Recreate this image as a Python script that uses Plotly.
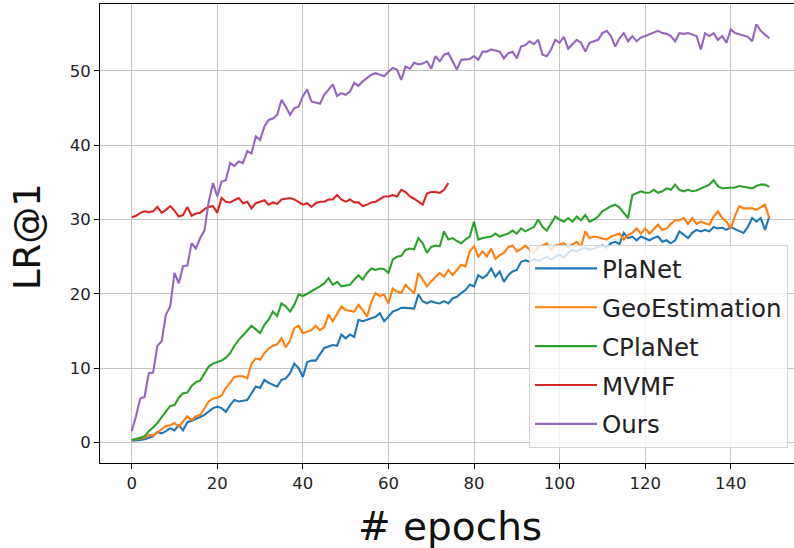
import plotly.graph_objects as go

epochs = list(range(150))
mvmf_epochs = list(range(75))

planet = [0.2, 0.2, 0.3, 0.4, 0.6, 0.8, 1.4, 1.2, 1.5, 1.9,
          1.6, 2.3, 1.6, 2.7, 2.9, 3.1, 3.4, 3.7, 4.1, 4.6,
          4.8, 4.6, 4.1, 5.0, 5.7, 5.5, 5.6, 5.7, 6.6, 7.5,
          7.3, 8.4, 8.0, 7.8, 7.5, 8.4, 8.6, 9.3, 10.6, 10.0,
          8.8, 10.8, 11.0, 11.0, 11.8, 12.7, 12.9, 13.1, 13.0, 14.5,
          14.0, 14.5, 14.2, 16.5, 16.3, 16.5, 16.6, 16.9, 17.4, 16.3,
          16.9, 17.6, 17.8, 18.1, 18.1, 18.1, 18.0, 19.9, 19.0, 18.7,
          19.0, 18.8, 18.7, 19.0, 18.7, 19.4, 19.6, 20.1, 20.5, 21.2,
          21.0, 22.5, 22.1, 22.5, 23.4, 22.3, 23.0, 21.6, 22.5, 23.0,
          23.2, 24.3, 24.5, 24.3, 24.7, 24.4, 24.7, 25.0, 24.6, 25.0,
          25.3, 24.9, 25.5, 25.9, 25.7, 26.0, 26.2, 25.9, 26.1, 26.3,
          26.5, 26.2, 26.8, 27.0, 26.7, 28.2, 27.5, 27.7, 27.2, 27.7,
          27.4, 27.2, 27.5, 27.7, 27.0, 27.2, 26.8, 27.2, 28.4, 27.9,
          27.5, 28.2, 28.6, 28.4, 28.6, 28.4, 29.0, 28.8, 28.9, 28.6,
          29.0, 28.7, 28.4, 28.2, 29.0, 30.2, 29.7, 30.2, 28.6, 30.4]

geoestimation = [0.3, 0.4, 0.5, 0.6, 1.0, 0.9, 1.3, 1.7, 2.2, 2.3,
                 2.6, 2.1, 2.8, 3.5, 3.0, 3.5, 3.7, 4.6, 5.5, 5.9,
                 6.0, 6.3, 7.3, 8.0, 8.8, 8.9, 8.9, 8.6, 10.6, 11.3,
                 11.1, 12.0, 12.6, 13.0, 13.2, 14.0, 12.8, 13.7, 15.4, 15.7,
                 14.7, 14.9, 15.1, 15.7, 15.1, 15.5, 17.2, 16.3, 17.4, 18.3,
                 17.8, 17.7, 17.6, 18.5, 17.8, 16.9, 18.9, 20.1, 19.7, 19.9,
                 18.7, 20.7, 20.3, 20.1, 21.2, 20.6, 20.1, 22.8, 21.9, 21.0,
                 21.7, 22.2, 22.8, 22.3, 23.2, 22.5, 23.2, 23.9, 23.7, 25.7,
                 26.4, 25.0, 25.7, 25.0, 26.1, 24.7, 25.2, 25.5, 26.3, 26.5,
                 25.7, 26.0, 26.5, 25.9, 25.5, 26.3, 26.5, 26.8, 25.9, 26.5,
                 26.6, 26.8, 26.3, 26.6, 27.0, 26.3, 28.4, 27.5, 27.7, 27.6,
                 27.5, 27.3, 27.7, 27.9, 28.1, 27.3, 27.9, 28.2, 28.8, 28.1,
                 28.8, 28.1, 28.7, 29.3, 28.6, 28.8, 29.4, 29.9, 29.9, 30.2,
                 29.4, 30.2, 29.4, 29.7, 29.5, 29.3, 30.4, 31.1, 30.2, 29.7,
                 28.8, 30.5, 31.8, 31.5, 31.5, 31.5, 31.3, 31.6, 32.0, 30.2]

cplanet = [0.3, 0.4, 0.6, 0.8, 1.5, 2.0, 2.6, 3.4, 4.2, 4.9,
           5.0, 6.0, 6.6, 6.7, 7.6, 8.1, 8.3, 9.2, 10.2, 10.6,
           10.8, 11.0, 11.4, 12.0, 13.0, 13.8, 14.4, 15.1, 15.7, 15.2,
           14.7, 15.8, 16.5, 17.6, 17.0, 18.7, 18.3, 17.6, 18.5, 19.9,
           19.7, 20.0, 20.3, 20.6, 21.0, 21.4, 22.1, 21.2, 21.6, 21.0,
           21.1, 21.2, 21.9, 22.5, 21.9, 22.8, 23.4, 23.2, 23.4, 23.3,
           22.8, 24.6, 25.0, 25.1, 25.9, 26.1, 26.0, 27.5, 26.8, 25.5,
           26.3, 26.5, 26.4, 28.4, 27.3, 27.5, 27.1, 26.8, 27.3, 27.7,
           29.7, 27.3, 27.5, 27.6, 27.7, 28.1, 27.7, 27.9, 28.1, 28.5,
           28.1, 28.8, 28.4, 28.7, 29.0, 30.0, 29.0, 28.5, 29.4, 30.4,
           30.0, 29.7, 30.2, 29.7, 30.4, 29.9, 30.6, 29.7, 30.0, 30.4,
           31.1, 31.5, 31.8, 32.0, 31.6, 30.9, 30.2, 33.3, 33.6, 33.8,
           33.6, 33.6, 34.0, 33.6, 33.8, 34.2, 34.0, 34.7, 34.0, 33.8,
           34.0, 33.8, 33.9, 34.2, 34.5, 34.7, 35.3, 34.5, 34.2, 34.2,
           34.2, 34.3, 34.5, 34.4, 34.3, 34.2, 34.5, 34.7, 34.7, 34.4]

mvmf = [30.3, 30.5, 30.9, 31.1, 31.0, 31.1, 31.7, 30.9, 31.3, 31.8,
        31.2, 30.4, 30.6, 31.7, 30.5, 30.8, 30.9, 31.4, 31.7, 31.8,
        30.9, 32.9, 32.4, 32.3, 32.6, 32.9, 32.2, 32.4, 31.5, 32.2,
        32.4, 32.6, 32.0, 32.3, 32.1, 32.7, 32.8, 32.9, 32.7, 32.4,
        32.0, 32.2, 31.7, 32.2, 32.4, 32.4, 32.7, 32.7, 33.3, 32.7,
        32.4, 32.7, 32.3, 32.3, 31.8, 32.0, 32.3, 32.4, 32.8, 33.1,
        33.1, 33.3, 33.1, 34.0, 33.7, 33.1, 32.8, 32.4, 32.0, 33.5,
        33.7, 33.7, 33.6, 34.0, 34.9]

ours = [1.5, 3.5, 5.9, 6.1, 9.3, 9.4, 13.0, 13.6, 17.2, 18.3,
        22.8, 21.4, 23.7, 23.8, 26.8, 26.1, 27.5, 28.5, 32.4, 34.9,
        33.1, 35.1, 35.3, 37.6, 37.2, 37.8, 37.6, 39.2, 38.9, 41.2,
        40.7, 42.5, 43.4, 43.6, 44.1, 46.1, 45.2, 44.1, 45.0, 45.2,
        46.6, 47.5, 45.9, 45.8, 45.6, 46.8, 47.5, 48.2, 46.6, 47.0,
        46.8, 47.2, 48.4, 48.0, 48.6, 49.0, 49.5, 49.7, 49.5, 49.3,
        49.9, 50.4, 50.2, 48.8, 50.6, 50.3, 51.1, 50.9, 51.0, 51.3,
        50.3, 52.0, 51.3, 52.2, 52.4, 51.2, 50.2, 51.5, 51.5, 51.6,
        52.0, 51.5, 52.6, 52.6, 52.9, 52.7, 52.6, 51.7, 52.4, 52.6,
        51.7, 53.3, 53.5, 54.0, 53.6, 54.2, 52.2, 52.0, 52.9, 54.2,
        53.8, 54.6, 53.0, 53.6, 54.2, 53.8, 52.6, 53.8, 54.0, 54.2,
        55.1, 55.4, 54.7, 53.3, 54.4, 55.1, 54.0, 54.7, 54.0, 54.5,
        54.7, 54.9, 55.2, 55.4, 55.1, 55.0, 54.7, 54.0, 55.1, 55.0,
        55.1, 54.9, 54.7, 52.9, 55.1, 54.7, 55.1, 54.2, 54.7, 53.8,
        55.6, 55.1, 54.9, 54.7, 54.6, 54.0, 56.3, 55.4, 54.9, 54.4]

series = [
    ("PlaNet", epochs, planet, "#1f77b4"),
    ("GeoEstimation", epochs, geoestimation, "#ff7f0e"),
    ("CPlaNet", epochs, cplanet, "#2ca02c"),
    ("MVMF", mvmf_epochs, mvmf, "#d62728"),
    ("Ours", epochs, ours, "#9467bd"),
]

x_ticks = [0, 20, 40, 60, 80, 100, 120, 140]
y_ticks = [0, 10, 20, 30, 40, 50]

fig = go.Figure()
for name, xs, ys, color in series:
    fig.add_trace(go.Scatter(x=xs, y=ys, mode="lines", name=name,
                             legendgroup=name,
                             line=dict(color=color, width=2.1)))

font_family = "DejaVu Sans"
fig.update_layout(
    width=794, height=548,
    margin=dict(l=100, r=0, t=4, b=85, autoexpand=False),
    paper_bgcolor="white", plot_bgcolor="white",
    font=dict(family=font_family, color="#222222"),
    showlegend=True,
    legend=dict(
        x=(788 - 100) / 694, y=(463 - 448) / 459, xanchor="right", yanchor="bottom",
        bgcolor="rgba(255,255,255,0.8)", bordercolor="#d4d4d4", borderwidth=1,
        font=dict(family=font_family, size=24.5, color="#222222"),
        itemwidth=62, tracegroupgap=4,
    ),
    xaxis=dict(
        range=[-7.41, 154.78], tickvals=x_ticks, ticks="outside", ticklen=5,
        tickcolor="black", tickwidth=1, showline=True, linecolor="black",
        linewidth=1, mirror=True, showgrid=True, gridcolor="#c4c4c4",
        gridwidth=1, zeroline=False, tickfont=dict(size=16.5),
    ),
    yaxis=dict(
        range=[-2.79, 59.02], tickvals=y_ticks, ticks="outside", ticklen=5,
        tickcolor="black", tickwidth=1, showline=True, linecolor="black",
        linewidth=1, mirror=False, showgrid=True, gridcolor="#c4c4c4",
        gridwidth=1, zeroline=False, tickfont=dict(size=16.5),
    ),
    annotations=[
        dict(text="# epochs", xref="paper", yref="paper",
             x=(450 - 100) / 694, y=-(526 - 463) / 459,
             xanchor="center", yanchor="middle", showarrow=False,
             font=dict(size=39, family=font_family, color="#111111")),
        dict(text="LR@1", xref="paper", yref="paper",
             x=-(100 - 27) / 694, y=(463 - 237) / 459,
             xanchor="center", yanchor="middle", showarrow=False, textangle=-90,
             font=dict(size=37, family=font_family, color="#111111")),
    ],
)

fig.write_html(
    "out.html",
    config={"displayModeBar": False},
    post_script="document.body.style.margin='0';document.body.style.overflow='hidden';",
)
